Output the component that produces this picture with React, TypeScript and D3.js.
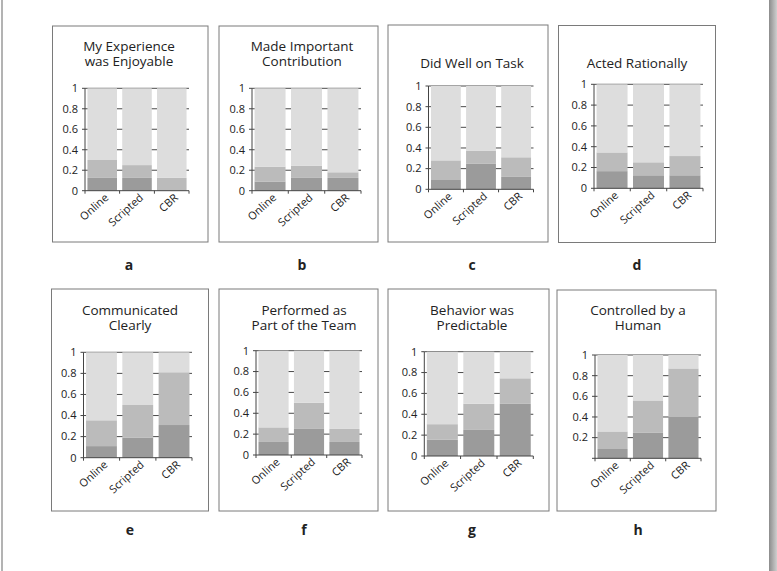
import React, { useEffect, useRef } from 'react';
import * as d3 from 'd3';

const categories = ['Online', 'Scripted', 'CBR'];
const panelLetters = ['a', 'b', 'c', 'd', 'e', 'f', 'g', 'h'];
const panelTitles = [
  ['My Experience', 'was Enjoyable'],
  ['Made Important', 'Contribution'],
  ['Did Well on Task'],
  ['Acted Rationally'],
  ['Communicated', 'Clearly'],
  ['Performed as', 'Part of the Team'],
  ['Behavior was', 'Predictable'],
  ['Controlled by a', 'Human'],
];
// share of the darkest (bottom) segment, per bar
const lowShare = [
  [0.125, 0.125, 0],
  [0.09, 0.125, 0.125],
  [0.09, 0.25, 0.12],
  [0.165, 0.125, 0.125],
  [0.11, 0.19, 0.31],
  [0.125, 0.25, 0.125],
  [0.155, 0.25, 0.5],
  [0.09, 0.25, 0.4],
];
// cumulative top of the middle segment, per bar
const midTop = [
  [0.3, 0.25, 0.125],
  [0.235, 0.245, 0.18],
  [0.28, 0.375, 0.31],
  [0.345, 0.25, 0.31],
  [0.355, 0.5, 0.81],
  [0.265, 0.5, 0.25],
  [0.305, 0.5, 0.745],
  [0.26, 0.56, 0.87],
];
const yTicks = [0, 0.2, 0.4, 0.6, 0.8, 1];
const hideZeroLabel = [false, false, false, false, false, false, false, true];

// panel frames and plot areas (layout only)
const layout = [
  { bx: 52.5, by: 26, bw: 155.5, bh: 216, px: 85, pw: 104, pt: 88.3, pb: 190.7, tx: 129, ty: 51 },
  { bx: 219, by: 26, bw: 159, bh: 216, px: 252, pw: 109, pt: 88.3, pb: 190.7, tx: 302, ty: 51 },
  { bx: 388, by: 25, bw: 160, bh: 217, px: 428.5, pw: 105, pt: 86, pb: 189.3, tx: 472, ty: 67.5 },
  { bx: 558.5, by: 25.5, bw: 157, bh: 217, px: 594, pw: 109, pt: 84.3, pb: 188.3, tx: 637, ty: 67.5 },
  { bx: 51.5, by: 289, bw: 157, bh: 222, px: 83.5, pw: 108.5, pt: 352.3, pb: 457.7, tx: 130, ty: 315 },
  { bx: 219, by: 289, bw: 159, bh: 222, px: 256, pw: 106, pt: 350.7, pb: 455, tx: 304, ty: 315 },
  { bx: 388, by: 289, bw: 161, bh: 222, px: 424.3, pw: 109, pt: 351.7, pb: 456, tx: 472, ty: 315 },
  { bx: 557, by: 290, bw: 159, bh: 221, px: 595, pw: 106, pt: 355, pb: 458.3, tx: 638, ty: 315 },
];

const segColors = ['#9b9b9b', '#bbbbbb', '#dddddd'];
const font = '"Open Sans", "DejaVu Sans", sans-serif';

export default function App() {
  const ref = useRef<SVGSVGElement>(null);

  useEffect(() => {
    const svg = d3.select(ref.current);
    svg.selectAll('*').remove();

    // outer frame
    const defs = svg.append('defs');
    const grad = defs.append('linearGradient').attr('id', 'edge').attr('x1', 0).attr('x2', 1);
    grad.append('stop').attr('offset', '0%').attr('stop-color', '#8c8c8c');
    grad.append('stop').attr('offset', '100%').attr('stop-color', '#cfcfcf');
    svg.append('line').attr('x1', 2).attr('x2', 2).attr('y1', 0).attr('y2', 571)
      .attr('stroke', '#8a8a8a').attr('stroke-width', 1.3);
    svg.append('rect').attr('x', 769).attr('y', 0).attr('width', 8).attr('height', 571).attr('fill', 'url(#edge)');

    layout.forEach((L, i) => {
      const g = svg.append('g');
      g.append('rect')
        .attr('x', L.bx).attr('y', L.by).attr('width', L.bw).attr('height', L.bh)
        .attr('fill', 'white').attr('stroke', '#7a7a7a').attr('stroke-width', 1);

      // title, one text per line
      panelTitles[i].forEach((t, k) => {
        g.append('text')
          .attr('x', L.tx).attr('y', L.ty + k * 15)
          .attr('text-anchor', 'middle').attr('font-family', font).attr('font-size', 13.5).attr('fill', '#222')
          .text(t);
      });

      const x = d3.scaleBand().domain(categories).range([L.px, L.px + L.pw]).paddingInner(0.15).paddingOuter(0.07);
      const y = d3.scaleLinear().domain([0, 1]).range([L.pb, L.pt]);

      // gridlines behind bars
      g.append('g').selectAll('line').data(yTicks.filter((d) => d > 0)).join('line')
        .attr('x1', L.px).attr('x2', L.px + L.pw)
        .attr('y1', (d) => y(d)).attr('y2', (d) => y(d))
        .attr('stroke', '#4a4a4a').attr('stroke-width', 1);

      // stacked bars
      const rows = categories.map((c, j) => ({
        cat: c,
        segs: [
          [0, lowShare[i][j]],
          [lowShare[i][j], midTop[i][j]],
          [midTop[i][j], 1],
        ],
      }));
      rows.forEach((r) => {
        g.append('g').selectAll('rect').data(r.segs).join('rect')
          .attr('x', x(r.cat)!)
          .attr('width', x.bandwidth())
          .attr('y', (d) => y(d[1]))
          .attr('height', (d) => Math.max(0, y(d[0]) - y(d[1])))
          .attr('fill', (_, k) => segColors[k]);
      });

      // y axis
      g.append('line').attr('x1', L.px).attr('x2', L.px).attr('y1', y(1)).attr('y2', y(0))
        .attr('stroke', '#444').attr('stroke-width', 1);
      g.append('g').selectAll('line').data(yTicks).join('line')
        .attr('x1', L.px - 3).attr('x2', L.px)
        .attr('y1', (d) => y(d)).attr('y2', (d) => y(d))
        .attr('stroke', '#444');
      g.append('g').selectAll('text')
        .data(yTicks.filter((d) => !(d === 0 && hideZeroLabel[i])))
        .join('text')
        .attr('x', L.px - 7).attr('y', (d) => y(d)).attr('dy', '0.35em')
        .attr('text-anchor', 'end').attr('font-family', font).attr('font-size', 11).attr('fill', '#222')
        .text((d) => d3.format('~g')(d));

      // x axis
      const step = x.step();
      const bounds = [L.px, ...categories.slice(1).map((c) => x(c)! - (step * x.paddingInner()) / 2), L.px + L.pw];
      g.append('line').attr('x1', L.px).attr('x2', L.px + L.pw).attr('y1', y(0)).attr('y2', y(0))
        .attr('stroke', '#444');
      g.append('g').selectAll('line').data(bounds).join('line')
        .attr('x1', (d) => d).attr('x2', (d) => d).attr('y1', y(0)).attr('y2', y(0) + 3)
        .attr('stroke', '#444');
      g.append('g').selectAll('text').data(categories).join('text')
        .attr('transform', (d) => `translate(${x(d)! + x.bandwidth() / 2 + 7},${y(0) + 8}) rotate(-42)`)
        .attr('text-anchor', 'end').attr('font-family', font).attr('font-size', 11).attr('fill', '#222')
        .text((d) => d);

      // panel letter
      svg.append('text')
        .attr('x', L.tx).attr('y', L.by < 100 ? 270 : 535)
        .attr('text-anchor', 'middle').attr('font-family', font).attr('font-weight', 'bold')
        .attr('font-size', 14).attr('fill', '#222')
        .text(panelLetters[i]);
    });
  }, []);

  return (
    <svg
      ref={ref}
      width={777}
      height={571}
      style={{ position: 'absolute', left: 0, top: 0, background: 'white' }}
    />
  );
}
